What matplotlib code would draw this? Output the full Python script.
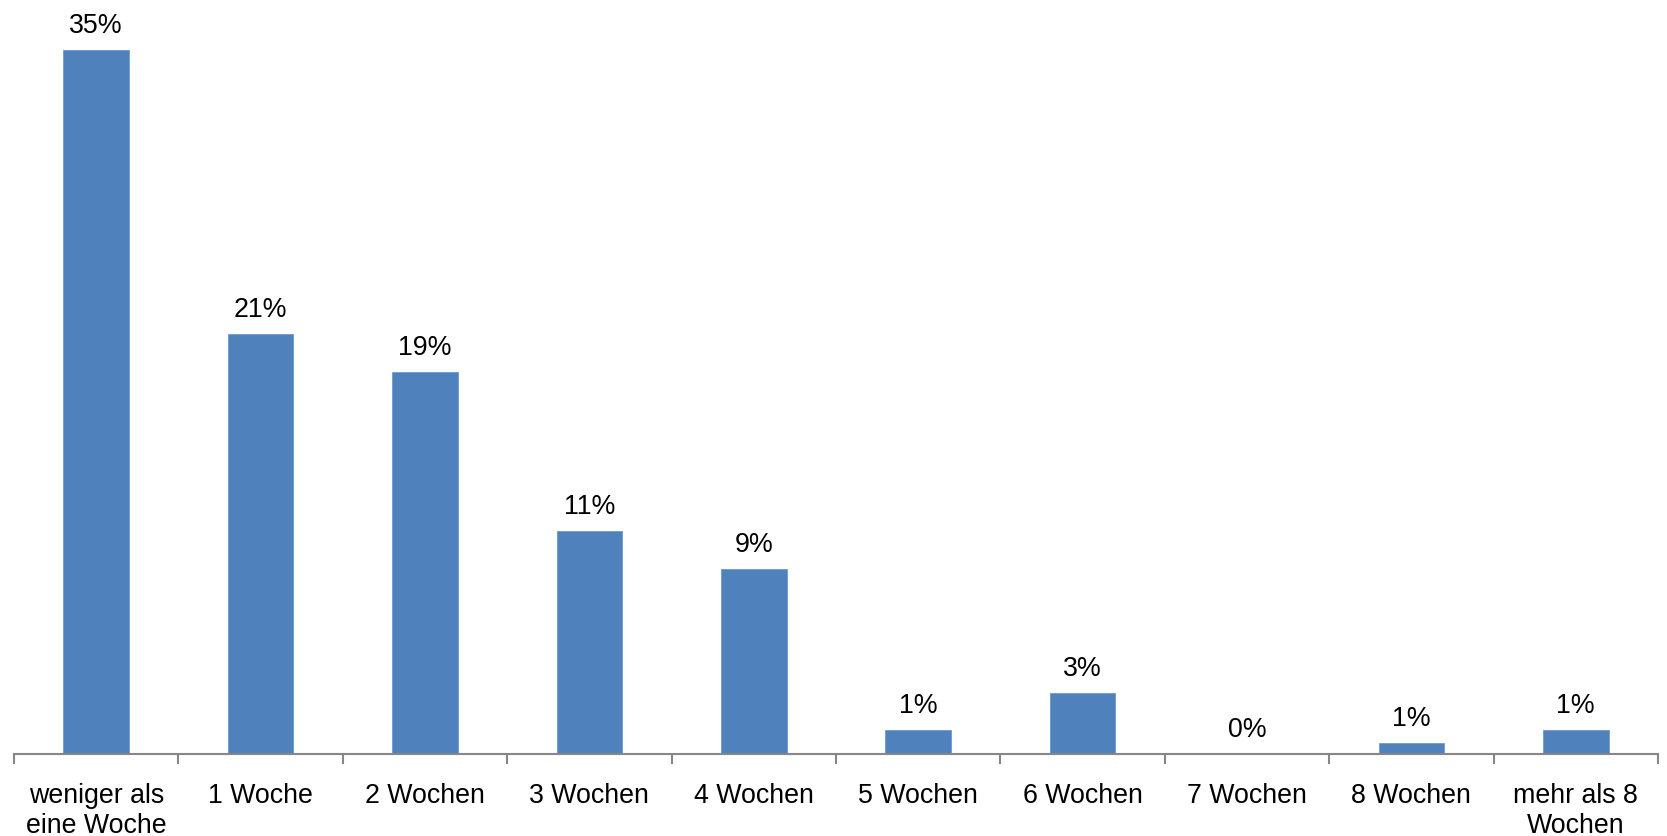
import matplotlib
matplotlib.use("Agg")
import matplotlib.pyplot as plt
import numpy as np

categories = ["weniger als\neine Woche", "1 Woche", "2 Wochen", "3 Wochen", "4 Wochen",
              "5 Wochen", "6 Wochen", "7 Wochen", "8 Wochen", "mehr als 8\nWochen"]
values = [35.0, 20.9, 19.0, 11.1, 9.2, 1.2, 3.05, 0.0, 0.55, 1.2]
value_labels = ["35%", "21%", "19%", "11%", "9%", "1%", "3%", "0%", "1%", "1%"]

plt.rcParams['font.family'] = ['Liberation Sans', 'DejaVu Sans']

W, H = 1667, 836
fig = plt.figure(figsize=(W / 100, H / 100), dpi=100)
ax = fig.add_axes([14 / W, (H - 754) / H, (1658 - 14) / W, (754 - 10) / H])

x = np.arange(len(categories))
bars = ax.bar(x, values, width=0.4, color="#4F81BD", edgecolor="#6E9AD0", linewidth=0.6, zorder=2)

for xi, v, lab in zip(x, values, value_labels):
    ax.annotate(lab, (xi, v), xytext=(0, 8), textcoords="offset points",
                ha="center", va="bottom", fontsize=19.3, color="black")

ax.set_xlim(-0.5, len(categories) - 0.5)
ax.set_ylim(0, 35.0 * 744 / 704)

for s in ["top", "right", "left"]:
    ax.spines[s].set_visible(False)
ax.spines["bottom"].set_color("#868686")
ax.spines["bottom"].set_linewidth(1.5)
ax.set_yticks([])

ax.set_xticks(x)
ax.set_xticklabels(categories, fontsize=19.3, linespacing=1.2)
ax.tick_params(axis="x", which="major", length=0, pad=21)
ax.set_xticks(np.arange(len(categories) + 1) - 0.5, minor=True)
ax.tick_params(axis="x", which="minor", length=7, width=1.5, color="#868686", direction="out")

fig.savefig("out.png", dpi=100)
